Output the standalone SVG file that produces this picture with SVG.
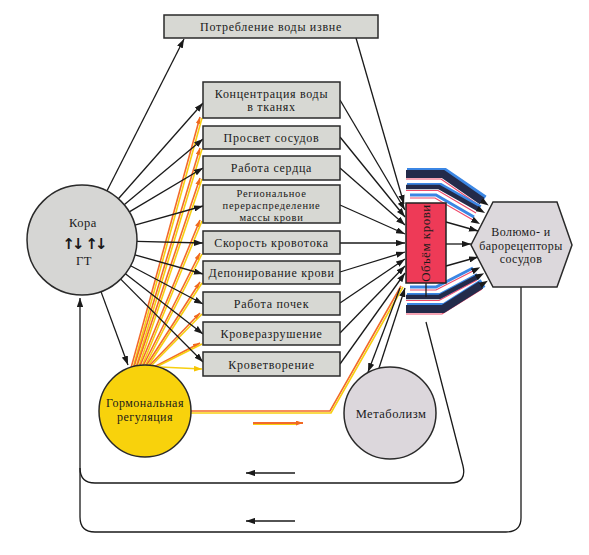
<svg xmlns="http://www.w3.org/2000/svg" width="589" height="555" viewBox="0 0 589 555">
<defs>
<marker id="ah" viewBox="0 0 10 7" refX="10" refY="3.5" markerWidth="9" markerHeight="6.5" orient="auto" markerUnits="userSpaceOnUse"><path d="M0,0 L10,3.5 L0,7 z" fill="#1a1a1a"/></marker>
<marker id="ahb" viewBox="0 0 10 7" refX="1" refY="3.5" markerWidth="9" markerHeight="7" orient="auto" markerUnits="userSpaceOnUse"><path d="M0,0 L10,3.5 L0,7 z" fill="#1a1a1a"/></marker>
<marker id="ao" viewBox="0 0 10 7" refX="10" refY="3.5" markerWidth="7" markerHeight="5" orient="auto" markerUnits="userSpaceOnUse"><path d="M0,0 L10,3.5 L0,7 z" fill="#f06a1e"/></marker>
<marker id="ay" viewBox="0 0 10 7" refX="10" refY="3.5" markerWidth="8" markerHeight="6" orient="auto" markerUnits="userSpaceOnUse"><path d="M0,0 L10,3.5 L0,7 z" fill="#f5c400"/></marker>
</defs>
<style>
.box{fill:#d7d8d3;stroke:#2a2a2a;stroke-width:1.5}
.t{font-family:"Liberation Serif","DejaVu Serif",serif;font-size:12px;fill:#1a1a1a;text-anchor:middle;letter-spacing:0.7px}
.sm{font-size:10.5px}
.md{font-size:12.5px;letter-spacing:0.5px}
.k{stroke:#1a1a1a;stroke-width:1.3;fill:none}
.ka{stroke:#1a1a1a;stroke-width:1.3;fill:none;marker-end:url(#ah)}
.or{stroke:#f26a2a;stroke-width:1.6;fill:none}
.ye{stroke:#f7cf10;stroke-width:1.6;fill:none}
.navy{fill:none;stroke:#232b4a;stroke-linejoin:miter}
.blue{fill:none;stroke:#3b86e4;stroke-linejoin:miter}
.pink{fill:none;stroke:#ee4a6a;stroke-width:1.2;stroke-linejoin:miter}
.arr{font-family:"DejaVu Sans",sans-serif;font-size:15px;font-weight:bold;fill:#1a1a1a;text-anchor:middle;letter-spacing:-3px}
</style>
<rect width="589" height="555" fill="#ffffff"/>

<g id="connectors">
<g>
<line class="or" x1="131" y1="368" x2="200" y2="117" marker-end="url(#ao)"/><line class="ye" x1="133" y1="368" x2="202" y2="118"/>
<line class="or" x1="134" y1="367" x2="200" y2="148" marker-end="url(#ao)"/><line class="ye" x1="136" y1="367" x2="202" y2="149"/>
<line class="or" x1="137" y1="366" x2="200" y2="178" marker-end="url(#ao)"/><line class="ye" x1="139" y1="366" x2="202" y2="179"/>
<line class="or" x1="140" y1="366" x2="200" y2="220" marker-end="url(#ao)"/><line class="ye" x1="142" y1="366" x2="202" y2="221"/>
<line class="or" x1="143" y1="366" x2="200" y2="253" marker-end="url(#ao)"/><line class="ye" x1="145" y1="366" x2="202" y2="254"/>
<line class="or" x1="146" y1="366" x2="200" y2="282" marker-end="url(#ao)"/><line class="ye" x1="148" y1="366" x2="202" y2="283"/>
<line class="or" x1="149" y1="366" x2="200" y2="313" marker-end="url(#ao)"/><line class="ye" x1="151" y1="366" x2="202" y2="314"/>
<line class="or" x1="154" y1="367" x2="200" y2="343" marker-end="url(#ao)"/><line class="ye" x1="156" y1="367" x2="202" y2="344"/>
<line class="ye" x1="160" y1="367" x2="202" y2="369" marker-end="url(#ay)"/>
<polyline class="or" points="191,411 330,411 401,286"/>
<polyline class="ye" points="191,413 331,413 403,287"/>
<line x1="253" y1="423" x2="303" y2="423" stroke="#f26a2a" stroke-width="2.2" marker-end="url(#ao)"/>
<line x1="253" y1="424.5" x2="296" y2="424.5" stroke="#f7cf10" stroke-width="1"/>
</g>

<line class="ka" x1="106.9" y1="191" x2="184" y2="39"/>
<line class="ka" x1="118.4" y1="198.8" x2="203" y2="103"/>
<line class="ka" x1="124.2" y1="204.8" x2="203" y2="139"/>
<line class="ka" x1="129.3" y1="211.9" x2="203" y2="168"/>
<line class="ka" x1="134.9" y1="225.1" x2="203" y2="206"/>
<line class="ka" x1="137" y1="241.4" x2="203" y2="243"/>
<line class="ka" x1="134.9" y1="254.9" x2="203" y2="274"/>
<line class="ka" x1="130.6" y1="265.7" x2="203" y2="304"/>
<line class="ka" x1="125.4" y1="273.7" x2="203" y2="334"/>
<line class="ka" x1="120.7" y1="279.1" x2="203" y2="362"/>
<line class="ka" x1="101" y1="291.6" x2="128" y2="365"/>

<line class="ka" x1="356" y1="38" x2="404" y2="204"/>
<line class="ka" x1="340" y1="100" x2="405" y2="210"/>
<line class="ka" x1="340" y1="137" x2="405" y2="217"/>
<line class="ka" x1="340" y1="168" x2="405" y2="225"/>
<line class="ka" x1="340" y1="205" x2="405" y2="234"/>
<line class="ka" x1="340" y1="243" x2="405" y2="243"/>
<line class="ka" x1="340" y1="272" x2="405" y2="252"/>
<line class="ka" x1="340" y1="303" x2="405" y2="259"/>
<line class="ka" x1="340" y1="333" x2="405" y2="266"/>
<line class="ka" x1="340" y1="364" x2="405" y2="273"/>

<line class="ka" x1="446" y1="222" x2="478" y2="231"/>
<line class="ka" x1="446" y1="244" x2="471" y2="244"/>
<line class="ka" x1="446" y1="266" x2="478" y2="257"/>

<line class="ka" x1="400" y1="288" x2="368" y2="372"/>
<line class="ka" x1="379" y1="368" x2="405" y2="288"/>

<polyline class="blue" stroke-width="9" points="407,172.5 444.5,172.5 484,199.5"/>
<polyline class="pink" points="406,179 441,179 480,206"/>
<polyline class="navy" stroke-width="8" points="406,174 443,174 482,201" marker-end="url(#ahb)"/>
<polyline class="blue" stroke-width="6" points="407,186 440.5,186 480,208"/>
<polyline class="pink" points="406,190.5 438,190.5 476,213"/>
<polyline class="navy" stroke-width="4.5" points="406,187 439,187 478,209" marker-end="url(#ahb)"/>
<polyline class="blue" stroke-width="3" points="410,195 436,195 474,217"/>
<polyline class="pink" points="410,198 435,198 473,220" marker-end="url(#ahb)"/>
<polyline class="blue" stroke-width="3" points="410,287 436,287 473,268"/>
<polyline class="pink" points="410,290 436,290 473,271" marker-end="url(#ahb)"/>
<polyline class="blue" stroke-width="6" points="407,296 440.5,296 478,276"/>
<polyline class="pink" points="406,300.5 439,300.5 477,280"/>
<polyline class="navy" stroke-width="4.5" points="406,297 439,297 477,277" marker-end="url(#ahb)"/>
<polyline class="blue" stroke-width="9" points="407,307.5 444.5,307.5 483,283"/>
<polyline class="pink" points="406,314 442,314 482,289"/>
<polyline class="navy" stroke-width="8" points="406,309 443,309 481,285" marker-end="url(#ahb)"/>

<line class="k" x1="426" y1="283" x2="426" y2="297"/>
<path class="k" d="M426,322 L463,466 Q467,483 450,483 L95,483 Q80,483 80,468"/>
<path class="k" d="M521,287 L521,518 Q521,532 506,532 L95,532 Q80,532 80,517 L80,298" marker-end="url(#ah)"/>
<line class="ka" x1="295" y1="473" x2="246" y2="473"/>
<line class="ka" x1="295" y1="521" x2="246" y2="521"/>
</g>

<g id="n-potreblenie"><rect class="box" x="164" y="15" width="214" height="23"/><text class="t" x="271" y="31">Потребление воды извне</text></g>
<g id="n-koncentr"><rect class="box" x="203" y="82" width="137" height="36"/><text class="t" x="271.5" y="97.5">Концентрация воды</text><text class="t" x="271.5" y="111">в тканях</text></g>
<g id="n-prosvet"><rect class="box" x="203" y="126" width="137" height="23"/><text class="t" x="271.5" y="142">Просвет сосудов</text></g>
<g id="n-serdce"><rect class="box" x="203" y="156" width="137" height="24"/><text class="t" x="271.5" y="172">Работа сердца</text></g>
<g id="n-region"><rect class="box" x="203" y="185" width="137" height="38"/><text class="t sm" x="271.5" y="196.5">Региональное</text><text class="t sm" x="271.5" y="208.5">перераспределение</text><text class="t sm" x="271.5" y="220.5">массы крови</text></g>
<g id="n-skorost"><rect class="box" x="203" y="231" width="137" height="23"/><text class="t" x="271.5" y="247">Скорость кровотока</text></g>
<g id="n-deponir"><rect class="box" x="203" y="261" width="137" height="23"/><text class="t" x="271.5" y="277">Депонирование крови</text></g>
<g id="n-pochki"><rect class="box" x="203" y="292" width="137" height="23"/><text class="t" x="271.5" y="308">Работа почек</text></g>
<g id="n-razrush"><rect class="box" x="203" y="322" width="137" height="23"/><text class="t" x="271.5" y="338">Кроверазрушение</text></g>
<g id="n-tvorenie"><rect class="box" x="203" y="352" width="137" height="24"/><text class="t" x="271.5" y="369">Кроветворение</text></g>

<g id="n-kora"><circle cx="82" cy="240" r="55" fill="#d6d6d4" stroke="#2a2a2a" stroke-width="1.5"/>
<text class="t md" x="83" y="227">Кора</text>
<text class="arr" x="72" y="249">↑↓</text>
<text class="arr" x="95" y="249">↑↓</text>
<text class="t md" x="84" y="265">ГТ</text></g>

<g id="n-gormon"><circle cx="145" cy="411" r="46" fill="#f8d20c" stroke="#2a2a2a" stroke-width="1.5"/>
<text class="t" x="145" y="407" style="letter-spacing:0.5px">Гормональная</text><text class="t" x="145" y="421" style="letter-spacing:0.5px">регуляция</text></g>

<g id="n-metabol"><circle cx="390" cy="413" r="46" fill="#dcd7dc" stroke="#2a2a2a" stroke-width="1.5"/>
<text class="t md" x="391" y="418">Метаболизм</text></g>

<g id="n-obyom"><rect x="406" y="203" width="40" height="80" fill="#ee3a57" stroke="#222" stroke-width="1.5"/>
<text class="t" transform="translate(430,243) rotate(-90)" x="0" y="0" style="font-size:13px;letter-spacing:0.5px">Объём крови</text></g>

<g id="n-receptors"><polygon points="471,245 493,202 557,202 572,245 557,287 493,287" fill="#dcd8dc" stroke="#2a2a2a" stroke-width="1.5"/>
<text class="t" x="521" y="236" style="letter-spacing:0.4px">Волюмо-  и</text>
<text class="t" x="521" y="249.5" style="letter-spacing:0.4px">барорецепторы</text>
<text class="t" x="521" y="263" style="letter-spacing:0.4px">сосудов</text></g>
</svg>
